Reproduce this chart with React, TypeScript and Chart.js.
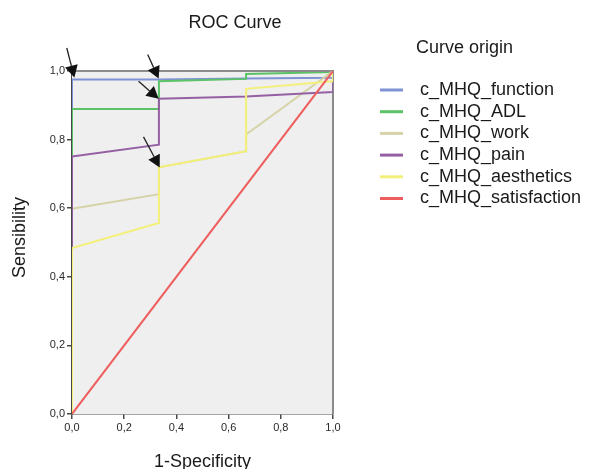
import React, { useEffect, useRef } from "react";
import { Chart, registerables } from "chart.js";

Chart.register(...registerables);

const chartTitle = "ROC Curve";
const legendTitle = "Curve origin";
const xAxisTitle = "1-Specificity";
const yAxisTitle = "Sensibility";

const seriesNames = [
  "c_MHQ_function",
  "c_MHQ_ADL",
  "c_MHQ_work",
  "c_MHQ_pain",
  "c_MHQ_aesthetics",
  "c_MHQ_satisfaction",
];
const seriesColors = ["#7f92d4", "#5cc266", "#d6d3a8", "#9560a3", "#f3f07a", "#ee5e5e"];

const functionX = [0, 0, 0.333, 0.667, 1, 1];
const functionY = [0, 0.975, 0.975, 0.978, 0.98, 1];
const adlX = [0, 0, 0.333, 0.333, 0.667, 0.667, 1, 1];
const adlY = [0, 0.889, 0.889, 0.97, 0.977, 0.991, 0.997, 1];
const workX = [0, 0, 0.333, 0.333, 0.667, 0.667, 1];
const workY = [0, 0.598, 0.641, 0.719, 0.766, 0.815, 1];
const painX = [0, 0, 0.333, 0.333, 0.667, 1, 1];
const painY = [0, 0.751, 0.785, 0.919, 0.926, 0.939, 1];
const aestheticsX = [0, 0, 0.333, 0.333, 0.667, 0.667, 1, 1];
const aestheticsY = [0, 0.484, 0.557, 0.719, 0.766, 0.948, 0.97, 1];
const satisfactionX = [0, 1];
const satisfactionY = [0, 1];

const seriesX = [functionX, adlX, workX, painX, aestheticsX, satisfactionX];
const seriesY = [functionY, adlY, workY, painY, aestheticsY, satisfactionY];

// annotation arrows: [tailX, tailY, tipX, tipY] in data units
const arrows = [
  [-0.02, 1.067, 0.009, 0.981],
  [0.29, 1.048, 0.332, 0.978],
  [0.255, 0.97, 0.332, 0.919],
  [0.274, 0.808, 0.336, 0.719],
];

const FONT = "'Liberation Sans', Arial, Helvetica, sans-serif";
const TICK_FONT = "'Liberation Sans Narrow', 'Arial Narrow', 'Liberation Sans', Arial, sans-serif";

const decorPlugin = {
  id: "decor",
  beforeDatasetsDraw(chart: any) {
    const { ctx, chartArea } = chart;
    const { left, top, right, bottom } = chartArea;
    ctx.save();
    ctx.fillStyle = "#efefef";
    ctx.fillRect(left, top, right - left, bottom - top);
    ctx.strokeStyle = "#8c8c8c";
    ctx.lineWidth = 2;
    ctx.beginPath();
    ctx.moveTo(left, top);
    ctx.lineTo(right, top);
    ctx.lineTo(right, bottom);
    ctx.stroke();
    ctx.restore();
  },
  afterDraw(chart: any) {
    const { ctx, chartArea, scales } = chart;
    const xs = scales.x;
    const ys = scales.y;
    ctx.save();
    // arrows
    ctx.strokeStyle = "#222";
    ctx.fillStyle = "#111";
    ctx.lineWidth = 1.3;
    arrows.forEach((a) => {
      const x1 = xs.getPixelForValue(a[0]);
      const y1 = ys.getPixelForValue(a[1]);
      const x2 = xs.getPixelForValue(a[2]);
      const y2 = ys.getPixelForValue(a[3]);
      const ang = Math.atan2(y2 - y1, x2 - x1);
      const hl = 12;
      const hw = 6.5;
      const bx = x2 - hl * Math.cos(ang);
      const by = y2 - hl * Math.sin(ang);
      ctx.beginPath();
      ctx.moveTo(x1, y1);
      ctx.lineTo(bx, by);
      ctx.stroke();
      ctx.beginPath();
      ctx.moveTo(x2, y2);
      ctx.lineTo(bx + hw * Math.sin(ang), by - hw * Math.cos(ang));
      ctx.lineTo(bx - hw * Math.sin(ang), by + hw * Math.cos(ang));
      ctx.closePath();
      ctx.fill();
    });
    // titles
    ctx.fillStyle = "#1a1a1a";
    ctx.font = `18px ${FONT}`;
    ctx.textBaseline = "middle";
    ctx.textAlign = "center";
    ctx.fillText(chartTitle, 235, 23);
    ctx.fillText(xAxisTitle, (chartArea.left + chartArea.right) / 2, 462);
    ctx.save();
    ctx.translate(20, (chartArea.top + chartArea.bottom) / 2 - 5);
    ctx.rotate(-Math.PI / 2);
    ctx.fillText(yAxisTitle, 0, 0);
    ctx.restore();
    // legend
    ctx.textAlign = "left";
    ctx.fillText(legendTitle, 416, 48);
    seriesNames.forEach((name, i) => {
      const y = 90 + i * 21.7;
      ctx.strokeStyle = seriesColors[i];
      ctx.lineWidth = 3;
      ctx.beginPath();
      ctx.moveTo(380, y);
      ctx.lineTo(403, y);
      ctx.stroke();
      ctx.fillStyle = "#1a1a1a";
      ctx.fillText(name, 420, y);
    });
    ctx.restore();
  },
};

export default function App() {
  const canvasRef = useRef<HTMLCanvasElement | null>(null);

  useEffect(() => {
    if (!canvasRef.current) return;
    const datasets = seriesNames.map((name, i) => ({
      label: name,
      data: seriesX[i].map((x, j) => ({ x, y: seriesY[i][j] })),
      borderColor: seriesColors[i],
      backgroundColor: seriesColors[i],
      borderWidth: 2,
      pointRadius: 0,
      showLine: true,
      fill: false,
      tension: 0,
      order: seriesNames.length - 1 - i,
    }));
    const tickCb = (v: any) => Number(v).toFixed(1).replace(".", ",");
    const chart = new Chart(canvasRef.current, {
      type: "scatter",
      data: { datasets },
      plugins: [decorPlugin],
      options: {
        animation: false,
        responsive: false,
        devicePixelRatio: 1,
        layout: { padding: { left: 0, top: 71, right: 256, bottom: 0 } },
        plugins: {
          legend: { display: false },
          title: { display: false },
          tooltip: { enabled: false },
        },
        scales: {
          x: {
            type: "linear",
            min: 0,
            max: 1,
            afterFit: (s: any) => {
              s.height = 55;
            },
            ticks: {
              stepSize: 0.2,
              callback: tickCb,
              color: "#2a2a2a",
              font: { family: TICK_FONT, size: 11 },
              padding: 2,
              maxRotation: 0,
            },
            grid: { drawOnChartArea: false, drawTicks: true, tickLength: 5, color: "#4a4a44", lineWidth: 1.5 },
            border: { display: true, color: "#4a4a44", width: 1.5 },
          },
          y: {
            type: "linear",
            min: 0,
            max: 1,
            afterFit: (s: any) => {
              s.width = 72;
            },
            ticks: {
              stepSize: 0.2,
              callback: tickCb,
              color: "#2a2a2a",
              font: { family: TICK_FONT, size: 11 },
              padding: 2,
            },
            grid: { drawOnChartArea: false, drawTicks: true, tickLength: 5, color: "#4a4a44", lineWidth: 1.5 },
            border: { display: true, color: "#4a4a44", width: 1.5 },
          },
        },
      },
    } as any);
    return () => chart.destroy();
  }, []);

  return (
    <div style={{ position: "fixed", left: 0, top: 0, width: 589, height: 469, background: "#fff" }}>
      <canvas ref={canvasRef} width={589} height={469} style={{ width: 589, height: 469, display: "block" }} />
    </div>
  );
}
